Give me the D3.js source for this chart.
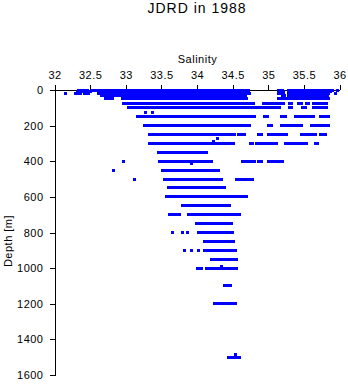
<!DOCTYPE html>
<html><head><meta charset="utf-8">
<script src="https://cdn.jsdelivr.net/npm/d3@7"></script>
<style>
body{margin:0;background:#fff;}
text{font-family:"Liberation Sans",Arial,sans-serif;fill:#000;}
</style></head>
<body><svg id="chart" width="348" height="384"></svg>
<script>
const title = "JDRD in 1988";
const xLabel = "Salinity";
const yLabel = "Depth [m]";
const salinityTicks = [32, 32.5, 33, 33.5, 34, 34.5, 35, 35.5, 36];
const depthTicks = [0, 200, 400, 600, 800, 1000, 1200, 1400, 1600];

// observed runs of samples: [depth (m), salinity from, salinity to]
const surfaceRuns = [
  [0,32.33,32.39],[0,32.43,32.47],[0,32.53,34.72],[0,35.14,35.2],[0,35.28,35.9],[0,35.97,35.97],
  [10,32.32,32.38],[10,32.45,32.5],[10,32.62,34.7],[10,35.16,35.21],[10,35.3,35.88],
  [20,32.15,32.15],[20,32.3,32.36],[20,32.42,32.48],[20,32.62,34.74],[20,35.15,35.22],[20,35.28,35.85],[20,35.94,35.94],
  [30,32.66,32.7],[30,32.75,34.68],[30,35.2,35.23],[30,35.29,35.83],
  [50,32.71,32.82],[50,32.96,34.7],[50,35.14,35.25],[50,35.3,35.85]
];
const upperRuns = [
  [75,32.97,34.79],[75,34.94,35.05],[75,35.07,35.11],[75,35.16,35.21],[75,35.3,35.33],[75,35.43,35.47],[75,35.53,35.57],[75,35.63,35.82],
  [100,33.04,34.78],[100,34.81,34.84],[100,34.88,34.92],[100,34.94,35.01],[100,35.03,35.16],[100,35.3,35.33],[100,35.48,35.52],[100,35.63,35.82],
  [125,33.28,33.28],[125,33.38,33.38],
  [150,33.16,34.57],[150,34.6,34.81],[150,34.95,34.99],[150,35.19,35.24],[150,35.38,35.42],[150,35.47,35.64],[150,35.73,35.84],
  [200,33.27,34.55],[200,34.57,34.62],[200,34.64,34.74],[200,35.01,35.05],[200,35.19,35.38],[200,35.43,35.47],[200,35.61,35.85],
  [250,33.34,34.53],[250,34.58,34.6],[250,34.62,34.66],[250,34.87,34.91],[250,35.01,35.17],[250,35.2,35.25],[250,35.46,35.5],[250,35.53,35.6],[250,35.62,35.67],[250,35.73,35.81],
  [270,34.29,34.29],[290,34.23,34.23],
  [300,33.33,34.51],[300,34.75,34.78],[300,34.83,34.95],[300,34.96,34.99],[300,35.02,35.05],[300,35.08,35.12],[300,35.24,35.38],[300,35.43,35.47],[300,35.5,35.54],[300,35.66,35.69],
  [350,33.46,34.08],[350,34.11,34.13]
];
const midRuns = [
  [400,32.97,32.97],[400,33.47,34.16],[400,34.19,34.21],[400,34.64,34.81],[400,34.86,34.9],[400,35.01,35.05],[400,35.09,35.15],[400,35.17,35.2],[410,33.92,33.92],
  [450,32.83,32.83],[450,33.51,34.22],[450,34.26,34.3],
  [500,33.12,33.12],[500,33.54,34.29],[500,34.32,34.34],[500,34.56,34.7],[500,34.72,34.78],
  [550,33.6,33.66],[550,33.68,33.8],[550,33.83,34.39],
  [600,33.57,33.66],[600,33.68,33.72],[600,33.74,34.43],[600,34.45,34.69],
  [650,33.79,33.86],[650,33.88,33.94],[650,33.96,34.36],[650,34.4,34.45],
  [700,33.62,33.65],[700,33.67,33.75],[700,33.88,34.53],[700,34.56,34.59]
];
const deepRuns = [
  [750,33.99,34.42],[750,34.45,34.48],
  [800,33.66,33.66],[800,33.79,33.79],[800,33.86,33.86],[800,34.02,34.5],
  [850,34.11,34.45],[850,34.47,34.51],
  [900,33.82,33.82],[900,33.92,33.92],[900,34.02,34.02],[900,34.1,34.48],[900,34.5,34.54],
  [950,34.2,34.5],[950,34.52,34.55],
  [990,34.35,34.35],[1000,34.0,34.06],[1000,34.14,34.16],[1000,34.21,34.5],[1000,34.53,34.56],
  [1100,34.39,34.47],
  [1200,34.24,34.54],
  [1485,34.54,34.54],[1500,34.44,34.6]
];

const runs = surfaceRuns.concat(upperRuns, midRuns, deepRuns);

const svg = d3.select("#chart");
const x = d3.scaleLinear().domain([32, 36]).range([54.5, 339.5]);
const y = d3.scaleLinear().domain([0, 1600]).range([90, 375]);

svg.append("text").attr("x", 197).attr("y", 13).attr("text-anchor", "middle")
  .style("font-size", "14px").style("letter-spacing", "1px").text(title);
svg.append("text").attr("x", 197.5).attr("y", 63).attr("text-anchor", "middle")
  .style("font-size", "11px").style("letter-spacing", "0.5px").text(xLabel);
svg.append("text").attr("transform", "translate(12,241) rotate(-90)").attr("text-anchor", "middle")
  .style("font-size", "11px").style("letter-spacing", "0.5px").text(yLabel);

const xAxis = svg.append("g").attr("transform", "translate(0,90)")
  .call(d3.axisTop(x).tickValues(salinityTicks).tickFormat(d3.format("")).tickSize(5).tickPadding(6).tickSizeOuter(0));
const yAxis = svg.append("g").attr("transform", "translate(54.5,0)")
  .call(d3.axisLeft(y).tickValues(depthTicks).tickFormat(d3.format("")).tickSize(5).tickPadding(6).tickSizeOuter(0));
[xAxis, yAxis].forEach(g => {
  g.selectAll("path,line").attr("stroke", "#000").attr("stroke-width", 1).attr("shape-rendering", "crispEdges");
  g.selectAll("text").style("font-family", "'Liberation Sans',Arial,sans-serif").style("font-size", "11px").style("letter-spacing", "0.5px").attr("fill", "#000");
});

svg.append("g").selectAll("rect").data(runs).join("rect")
  .attr("x", d => x(d[1]) - 1.5)
  .attr("width", d => x(d[2]) - x(d[1]) + 3)
  .attr("y", d => y(d[0]) - 1.5)
  .attr("height", 3)
  .attr("fill", "#0000ff")
  .attr("shape-rendering", "crispEdges");
</script></body></html>
